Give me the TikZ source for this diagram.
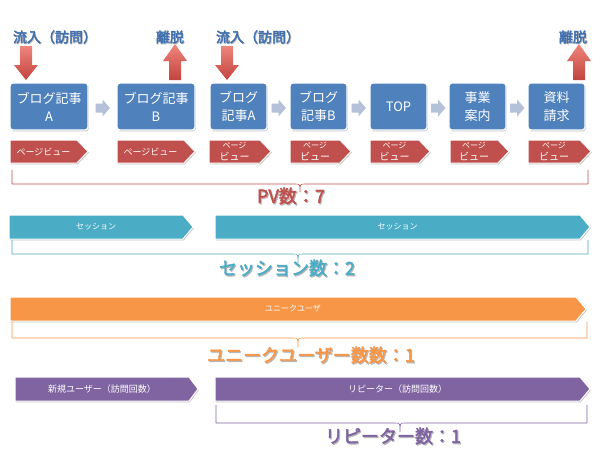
\documentclass[tikz,border=0pt]{standalone}
\usepackage{fontspec}
\setmainfont[AutoFakeBold=2.5]{Noto Sans CJK JP}
\usetikzlibrary{shadows,calc}
\definecolor{boxblue}{HTML}{4F81BD}
\definecolor{pvred}{HTML}{C0504D}
\definecolor{sesteal}{HTML}{4BACC6}
\definecolor{uuorange}{HTML}{F79646}
\definecolor{rppurple}{HTML}{8064A2}
\definecolor{arrgray}{HTML}{B3C2D8}
\definecolor{toplbl}{HTML}{3F6FAE}
\definecolor{redlight}{HTML}{EE857C}
\definecolor{reddark}{HTML}{C2443E}

\newcommand\chevbar[8]{%
  \path[chevshape, fill=#7] (#2,#4) -- ({#3-#6},#4) -- (#3,{(#4+#5)/2}) -- ({#3-#6},#5) -- (#2,#5) -- cycle;
  \node[chevtext] (#1) at ({(#2+#3-#6)/2},{(#4+#5)/2}) {#8};
}
\newcommand\underbr[8]{% color, x1, x2, ytop, yline, tipx, tipy, name
  \coordinate (#8) at (#6,#7);
  \draw[bracket, draw=#1] (#2,#4) -- (#2,#5) -- ({#6-5},#5) .. controls (#6,#5) .. (#8)
     .. controls (#6,#5) .. ({#6+5},#5) -- (#3,#5) -- (#3,#4);
}
\newcommand\downarr[4]{% cx, tail, tip, name
  \path[redarrow] ({#1-6},#2) -- ({#1+6},#2) -- ({#1+6},{#3-15}) -- ({#1+12},{#3-15}) -- (#1,#3)
     -- ({#1-12},{#3-15}) -- ({#1-6},{#3-15}) -- cycle;
  \coordinate (#4) at (#1,#3);
}
\newcommand\uparr[4]{% cx, tail, tip, name
  \path[redarrow] ({#1-6},#2) -- ({#1+6},#2) -- ({#1+6},{#3+17}) -- ({#1+12},{#3+17}) -- (#1,#3)
     -- ({#1-12},{#3+17}) -- ({#1-6},{#3+17}) -- cycle;
  \coordinate (#4) at (#1,#3);
}
\newcommand\grayarrow[2]{% name, between-point
  \coordinate (#1) at #2;
  \path[fill=arrgray] ($(#1)+(-7,-4.5)$) -- ($(#1)+(0,-4.5)$) -- ($(#1)+(0,-8.5)$) -- ($(#1)+(7.5,0)$)
     -- ($(#1)+(0,8.5)$) -- ($(#1)+(0,4.5)$) -- ($(#1)+(-7,4.5)$) -- cycle;
}
\newcommand\shlabel[5]{% name, x, y, color, text
  \node[biglabel, text=black!28] (#1-sh) at ({#2+1},{#3+1.2}) {#5};
  \node[biglabel, text=#4] (#1) at (#2,#3) {#5};
}

\begin{document}
\begin{tikzpicture}[x=1pt, y=-1pt,
  softshadow/.style={drop shadow={shadow xshift=0.8pt, shadow yshift=-1.3pt, fill=black, opacity=0.22}},
  pagebox/.style={draw=white, line width=1.2pt, fill=boxblue, rounded corners=3pt, text=white,
    align=center, font=\fontsize{13}{18}\selectfont, inner sep=0pt, minimum height=47pt, softshadow},
  chevshape/.style={draw=white, line width=1pt, softshadow},
  chevtext/.style={text=white, align=center, inner sep=0pt},
  redarrow/.style={top color=redlight, bottom color=reddark, draw=none},
  bracket/.style={line width=0.6pt, line join=round},
  biglabel/.style={font=\fontsize{18}{20}\selectfont\bfseries, inner sep=0pt},
  toplabel/.style={font=\fontsize{14}{16}\selectfont\bfseries, inner sep=0pt}
]
\useasboundingbox[fill=white] (0,0) rectangle (600,450);

% top labels
\node[toplabel, text=black!25] (t1-sh) at (55.8,37.8) {流入（訪問）};
\node[toplabel, text=toplbl] (t1) at (55,37) {流入（訪問）};
\node[toplabel, text=black!25] (t2-sh) at (170.8,37.8) {離脱};
\node[toplabel, text=toplbl] (t2) at (170,37) {離脱};
\node[toplabel, text=black!25] (t3-sh) at (258.8,37.8) {流入（訪問）};
\node[toplabel, text=toplbl] (t3) at (258,37) {流入（訪問）};
\node[toplabel, text=black!25] (t4-sh) at (573.8,37.8) {離脱};
\node[toplabel, text=toplbl] (t4) at (573,37) {離脱};

% red arrows
\downarr{26}{46}{80}{a1}
\uparr{175}{80}{44}{a2}
\downarr{227}{46}{80}{a3}
\uparr{579}{80}{44}{a4}

% page boxes
\node[pagebox, minimum width=78pt] (b1) at (49,106.5) {ブログ記事\\A};
\node[pagebox, minimum width=78pt] (b2) at (156,106.5) {ブログ記事\\B};
\node[pagebox, minimum width=57pt] (b3) at (238.5,106.5) {ブログ\\記事A};
\node[pagebox, minimum width=57pt] (b4) at (318.5,106.5) {ブログ\\記事B};
\node[pagebox, minimum width=57pt] (b5) at (398.5,106.5) {TOP};
\node[pagebox, minimum width=57pt] (b6) at (477.5,106.5) {事業\\案内};
\node[pagebox, minimum width=57pt] (b7) at (556.5,106.5) {資料\\請求};

% gray arrows between boxes
\grayarrow{g1}{($(b1.east)!0.5!(b2.west)+(0,1.5)$)}
\grayarrow{g2}{($(b3.east)!0.5!(b4.west)+(0,1.5)$)}
\grayarrow{g3}{($(b4.east)!0.5!(b5.west)+(0,1.5)$)}
\grayarrow{g4}{($(b5.east)!0.5!(b6.west)+(0,1.5)$)}
\grayarrow{g5}{($(b6.east)!0.5!(b7.west)+(0,1.5)$)}

% page view chevrons
\chevbar{p1}{10}{88}{140}{163}{11}{pvred}{\fontsize{9}{10}\selectfont ページビュー}
\chevbar{p2}{117}{195}{140}{163}{11}{pvred}{\fontsize{9}{10}\selectfont ページビュー}
\chevbar{p3}{209}{271}{140}{163}{11}{pvred}{\fontsize{8}{10}\selectfont ページ\\ビュー}
\chevbar{p4}{290}{351}{140}{163}{11}{pvred}{\fontsize{8}{10}\selectfont ページ\\ビュー}
\chevbar{p5}{370}{430}{140}{163}{11}{pvred}{\fontsize{8}{10}\selectfont ページ\\ビュー}
\chevbar{p6}{450}{509}{140}{163}{11}{pvred}{\fontsize{8}{10}\selectfont ページ\\ビュー}
\chevbar{p7}{528}{591}{140}{163}{11}{pvred}{\fontsize{8}{10}\selectfont ページ\\ビュー}

\underbr{pvred}{12}{588}{170}{184}{300}{192}{pvtip}
\shlabel{lpv}{291}{196}{pvred}{PV数：7}

% sessions
\chevbar{s1}{9}{193}{215}{239}{10}{sesteal}{\fontsize{8}{10}\selectfont セッション}
\chevbar{s2}{215}{590}{215}{239}{10}{sesteal}{\fontsize{8}{10}\selectfont セッション}
\underbr{sesteal}{12}{588}{240}{254}{298}{263}{sestip}
\shlabel{lses}{287}{268}{sesteal}{セッション数：2}

% unique users
\chevbar{u1}{10}{586}{297}{321}{10}{uuorange}{\fontsize{8}{10}\selectfont ユニークユーザ}
\underbr{uuorange}{12}{587}{322}{338}{298}{347}{uutip}
\shlabel{luu}{311}{355}{uuorange}{ユニークユーザー数数：1}

% new / repeat
\chevbar{n1}{15}{198}{377}{401}{9}{rppurple}{\fontsize{9}{10}\selectfont 新規ユーザー（訪問回数）}
\chevbar{r1}{215}{590}{377}{401}{10}{rppurple}{\fontsize{9}{10}\selectfont リピーター（訪問回数）}
\underbr{rppurple}{216}{587}{405}{423}{400}{432}{rptip}
\shlabel{lrp}{393}{436}{rppurple}{リピーター数：1}
\end{tikzpicture}
\end{document}
